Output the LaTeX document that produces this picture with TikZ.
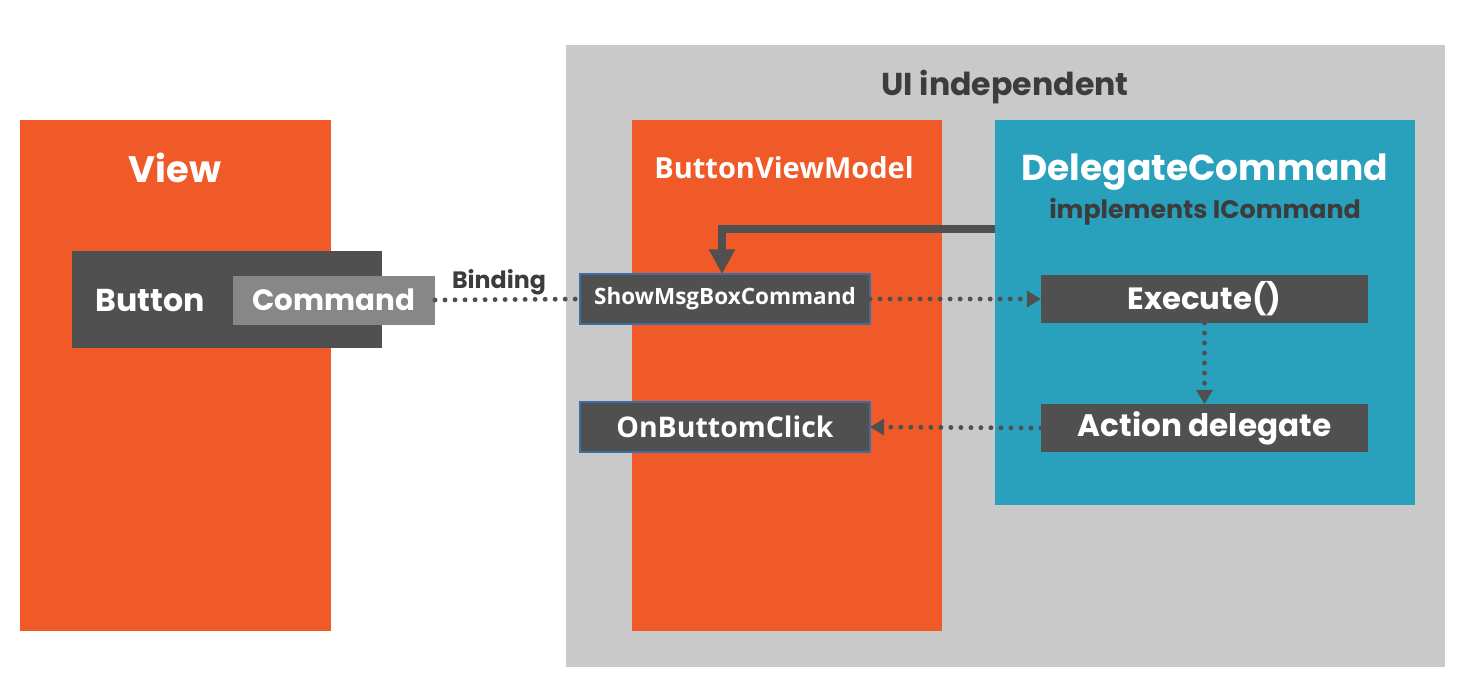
\documentclass[tikz,border=0pt]{standalone}
\usepackage{fontspec}
\setmainfont{Poppins}
\newfontfamily\segfont{Open Sans}
\usetikzlibrary{arrows.meta}
\definecolor{org}{HTML}{F05A28}
\definecolor{blu}{HTML}{29A0BC}
\definecolor{gry}{HTML}{C9C9C9}
\definecolor{drk}{HTML}{505050}
\definecolor{mid}{HTML}{878787}
\definecolor{txt}{HTML}{3C3C3C}
\definecolor{edg}{HTML}{3A6EA5}
\tikzset{
  darkbox/.style={fill=drk, inner sep=0pt, outer sep=0pt, text=white, font=\bfseries},
  membox/.style={fill=drk, draw=edg, line width=1pt, inner sep=0pt, outer sep=0pt, text=white, font=\segfont\bfseries},
  dotline/.style={drk, line width=2.8pt, dash pattern=on 0pt off 5.7pt, line cap=round},
  dotarrow/.style={dotline, -{Triangle[length=8pt,width=9pt,line cap=butt]}},
}
\begin{document}
\begin{tikzpicture}[x=0.02cm,y=-0.02cm]
\useasboundingbox (0,0) rectangle (1471,691);
% panels
\fill[gry] (566,45) rectangle (1445,667);
\node[text=txt, font=\bfseries\fontsize{18}{20}\selectfont] (ui) at (1005,87) {UI independent};
\fill[org] (20,120) rectangle (331,631);
\node[text=white, font=\bfseries\fontsize{21}{24}\selectfont] (view) at (175,168) {View};
\fill[org] (632,120) rectangle (942,631);
\node[text=white, font=\segfont\bfseries\fontsize{16.5}{19}\selectfont] (bvm) at (784,168) {ButtonViewModel};
\fill[blu] (995,120) rectangle (1415,505);
\node[text=white, font=\bfseries\fontsize{20.5}{24}\selectfont] (dc) at (1205,172) {DelegateCommand};
\node[text=txt, font=\bfseries\fontsize{14.4}{16}\selectfont] (impl) at (1205,212) {implements ICommand};
% view boxes
\fill[drk] (72,251) rectangle (382,348);
\node[text=white, font=\bfseries\fontsize{18}{20}\selectfont] (button) at (150,301) {Button};
\node[fill=mid, text=white, font=\bfseries\fontsize{16.7}{20}\selectfont, minimum width=202*0.02cm, minimum height=49*0.02cm, inner sep=0pt, outer sep=0pt] (command) at (334,300) {Command};
% view model members
\node[membox, minimum width=290*0.02cm, minimum height=50*0.02cm, font=\segfont\bfseries\fontsize{12.8}{14}\selectfont] (show) at (725,299) {ShowMsgBoxCommand};
\node[membox, minimum width=290*0.02cm, minimum height=50*0.02cm, font=\segfont\bfseries\fontsize{16.2}{18}\selectfont] (onclick) at (725,427) {OnButtomClick};
% delegate members
\node[darkbox, minimum width=327*0.02cm, minimum height=48*0.02cm, font=\bfseries\fontsize{17.5}{20}\selectfont] (exec) at (1204.5,299) {Execute()};
\node[darkbox, minimum width=327*0.02cm, minimum height=48*0.02cm, font=\bfseries\fontsize{17.7}{20}\selectfont] (action) at (1204.5,428) {Action delegate};
% connectors
\draw[dotline] (command.east) -- (show.west);
\node[text=txt, font=\bfseries\fontsize{13.5}{15}\selectfont] (bind) at (499,282) {Binding};
\coordinate (dcleft) at (995,229);
\draw[drk, line width=4pt, -{Triangle[length=14pt,width=14pt]}] (dcleft) -| (show.north -| 722,0);
\draw[dotarrow] (show.east) -- (exec.west);
\draw[dotarrow] (exec.south) -- (action.north);
\draw[dotarrow] (action.west) -- (onclick.east);
\end{tikzpicture}
\end{document}
